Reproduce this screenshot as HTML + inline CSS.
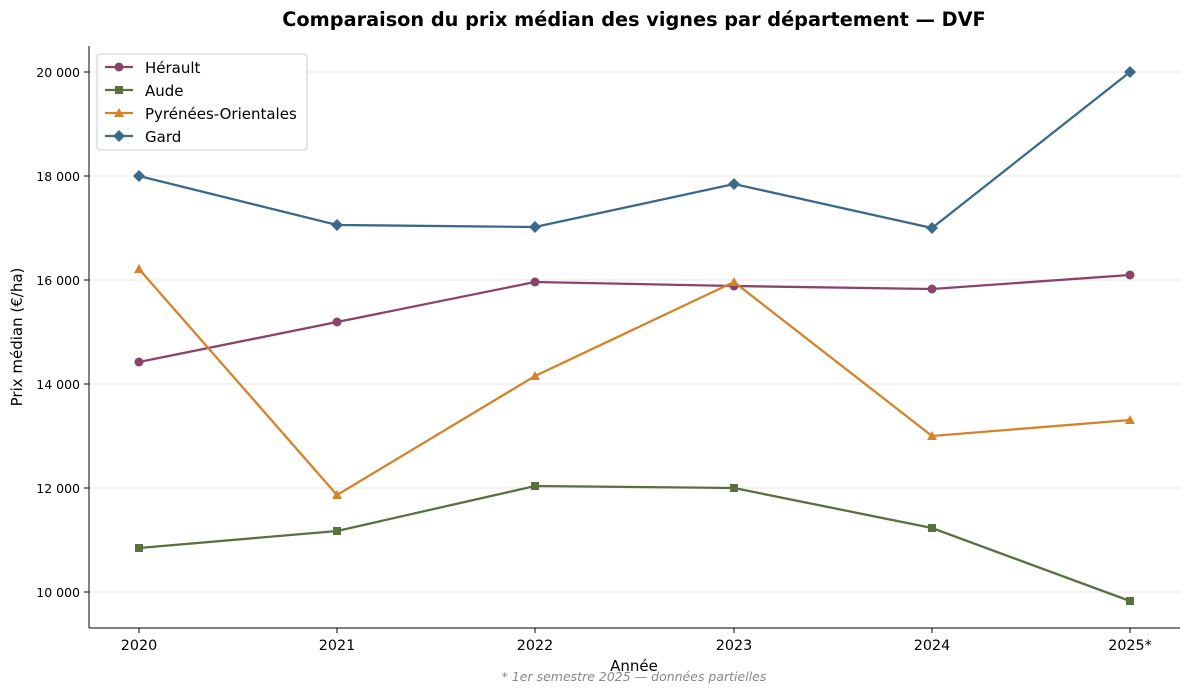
<!DOCTYPE html>
<html><head><meta charset="utf-8"><style>
html,body{margin:0;padding:0;background:#fff;}
svg text{font-family:"DejaVu Sans","Liberation Sans",sans-serif;}
</style></head><body>
<svg width="1189" height="693" xmlns="http://www.w3.org/2000/svg">
<rect width="1189" height="693" fill="#fff"/>
<text x="634" y="26" text-anchor="middle" font-size="19.3" font-weight="bold" fill="#000">Comparaison du prix médian des vignes par département — DVF</text>
<g stroke="#e6e6e6" stroke-width="1">
<line x1="89" x2="1180" y1="72" y2="72"/><line x1="89" x2="1180" y1="176" y2="176"/><line x1="89" x2="1180" y1="280" y2="280"/><line x1="89" x2="1180" y1="384" y2="384"/><line x1="89" x2="1180" y1="488" y2="488"/><line x1="89" x2="1180" y1="592" y2="592"/>
</g>
<g stroke="#000" stroke-width="1"><line x1="89" y1="46" x2="89" y2="628"/><line x1="89" y1="628" x2="1180" y2="628"/>
<line x1="84" x2="89" y1="72" y2="72"/><line x1="84" x2="89" y1="176" y2="176"/><line x1="84" x2="89" y1="280" y2="280"/><line x1="84" x2="89" y1="384" y2="384"/><line x1="84" x2="89" y1="488" y2="488"/><line x1="84" x2="89" y1="592" y2="592"/>
<line x1="139" x2="139" y1="628" y2="633"/><line x1="337" x2="337" y1="628" y2="633"/><line x1="535" x2="535" y1="628" y2="633"/><line x1="734" x2="734" y1="628" y2="633"/><line x1="932" x2="932" y1="628" y2="633"/><line x1="1130" x2="1130" y1="628" y2="633"/>
</g>
<g font-size="12.5" fill="#000" text-anchor="end">
<text x="80" y="77">20 000</text><text x="80" y="181">18 000</text><text x="80" y="285">16 000</text><text x="80" y="389">14 000</text><text x="80" y="493">12 000</text><text x="80" y="597">10 000</text>
</g>
<g font-size="14.3" fill="#000" text-anchor="middle">
<text x="139" y="650">2020</text><text x="337" y="650">2021</text><text x="535" y="650">2022</text><text x="734" y="650">2023</text><text x="932" y="650">2024</text><text x="1130" y="650">2025*</text>
</g>
<text x="634" y="671" text-anchor="middle" font-size="15">Année</text>
<text transform="translate(22,337) rotate(-90)" text-anchor="middle" font-size="15">Prix médian (€/ha)</text>
<text x="634" y="681" text-anchor="middle" font-size="12.5" font-style="italic" fill="#888">* 1er semestre 2025 — données partielles</text>
<g fill="none" stroke-width="2.3">
<polyline stroke="#8B4368" points="139,362 337,322 535,282 734,286 932,289 1130,275"/>
<polyline stroke="#5A7040" points="139,548 337,531 535,486 734,488 932,528 1130,601"/>
<polyline stroke="#D4832A" points="139,269 337,495 535,376 734,282 932,436 1130,420"/>
<polyline stroke="#3A6A8A" points="139,176 337,225 535,227 734,184 932,228 1130,72"/>
</g>
<g fill="#8B4368"><circle cx="139" cy="362" r="4.5"/><circle cx="337" cy="322" r="4.5"/><circle cx="535" cy="282" r="4.5"/><circle cx="734" cy="286" r="4.5"/><circle cx="932" cy="289" r="4.5"/><circle cx="1130" cy="275" r="4.5"/></g>
<g fill="#5A7040"><rect x="135" y="544" width="8" height="8"/><rect x="333" y="527" width="8" height="8"/><rect x="531" y="482" width="8" height="8"/><rect x="730" y="484" width="8" height="8"/><rect x="928" y="524" width="8" height="8"/><rect x="1126" y="597" width="8" height="8"/></g>
<g fill="#D4832A"><polygon points="139,264 144,273 134,273"/><polygon points="337,490 342,499 332,499"/><polygon points="535,371 540,380 530,380"/><polygon points="734,277 739,286 729,286"/><polygon points="932,431 937,440 927,440"/><polygon points="1130,415 1135,424 1125,424"/></g>
<g fill="#3A6A8A"><polygon points="139,170 145,176 139,182 133,176"/><polygon points="337,219 343,225 337,231 331,225"/><polygon points="535,221 541,227 535,233 529,227"/><polygon points="734,178 740,184 734,190 728,184"/><polygon points="932,222 938,228 932,234 926,228"/><polygon points="1130,66 1136,72 1130,78 1124,72"/></g>
<rect x="97" y="54" width="210" height="96" rx="3" fill="#fff" fill-opacity="0.85" stroke="#ccc"/>
<g stroke-width="2.3"><line x1="105" x2="133" y1="67" y2="67" stroke="#8B4368"/><line x1="105" x2="133" y1="90" y2="90" stroke="#5A7040"/><line x1="105" x2="133" y1="113" y2="113" stroke="#D4832A"/><line x1="105" x2="133" y1="136" y2="136" stroke="#3A6A8A"/></g>
<circle cx="119" cy="67" r="4.5" fill="#8B4368"/><rect x="115" y="86" width="8" height="8" fill="#5A7040"/><polygon points="119,108 124,117 114,117" fill="#D4832A"/><polygon points="119,130 125,136 119,142 113,136" fill="#3A6A8A"/>
<g font-size="15" fill="#000"><text x="145" y="73">Hérault</text><text x="145" y="96">Aude</text><text x="145" y="119">Pyrénées-Orientales</text><text x="145" y="142">Gard</text></g>
</svg>
</body></html>
